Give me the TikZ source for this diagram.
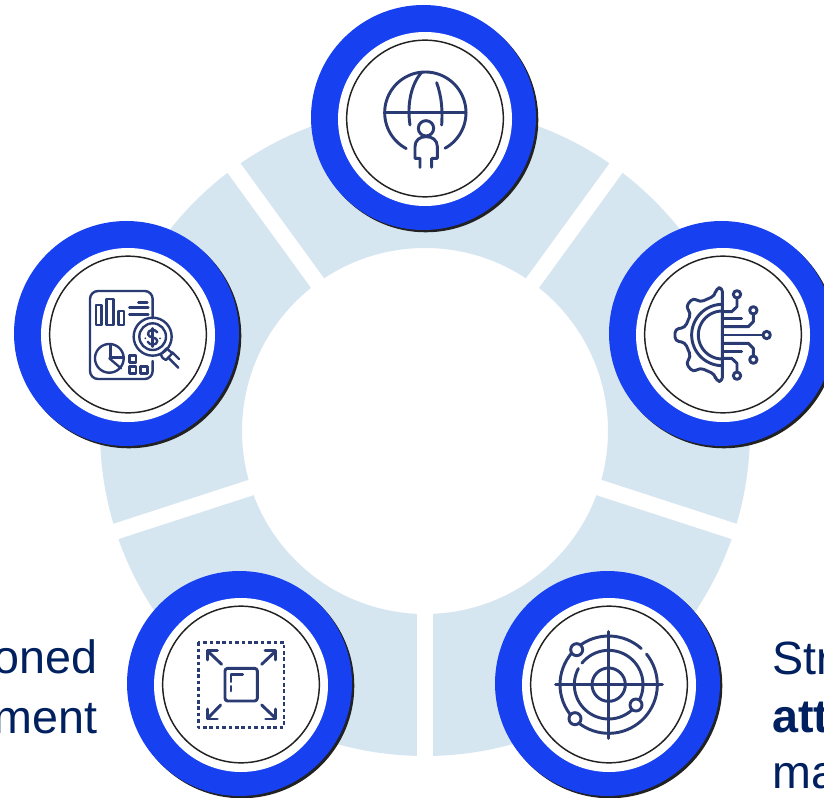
\documentclass[tikz,border=0pt]{standalone}
\usepackage{fontspec}
\setmainfont{Liberation Sans}
\definecolor{ringc}{HTML}{D6E6F1}
\definecolor{bluec}{HTML}{1740F0}
\definecolor{shadowc}{HTML}{222222}
\definecolor{iconc}{HTML}{2A3A72}
\definecolor{textc}{HTML}{00205F}
\tikzset{
  disc/.style={circle,inner sep=0pt,outer sep=0pt},
  shadowdisc/.style={disc,fill=shadowc,minimum size=168.75pt},
  bluedisc/.style={disc,fill=bluec,minimum size=168.75pt},
  whitedisc/.style={disc,fill=white,minimum size=130.5pt},
  linedisc/.style={disc,draw=shadowc,line width=1.1pt,fill=white,minimum size=117.5pt},
  gapline/.style={white,line width=12pt},
  icon/.style={draw=iconc,line width=2.2pt,line cap=round,line join=round},
  iconthin/.style={draw=iconc,line width=1.8pt,line cap=round,line join=round},
  label/.style={text=textc,font=\fontsize{35}{40}\selectfont,inner sep=0pt},
}
\newcommand{\badge}[3]{%
  \node[shadowdisc] (#1s) at (#2+0.8,#3+1.8) {};
  \node[bluedisc] (#1b) at (#2-1.5,#3-0.5) {};
  \node[whitedisc] (#1w) at (#2,#3+1) {};
  \node[linedisc] (#1l) at (#2,#3+0.5) {};
}
\newcommand{\arcp}[6][icon]{\draw[#1] plot[domain=#5:#6,samples=70] ({#2+#4*cos(\x)},{#3-#4*sin(\x)});}
\begin{document}
\begin{tikzpicture}[x=0.75pt,y=-0.75pt]
\useasboundingbox (0,0) rectangle (824,798);
\clip (0,0) rectangle (824,798);
\fill[white] (0,0) rectangle (824,798);
\coordinate (ctr) at (425,431);
\fill[ringc,even odd rule] (ctr) circle[radius=325] (ctr) circle[radius=183];
\foreach \ex/\ey in {425/800, 44.6/554.6, 805.4/554.6, 189.9/107.4, 660.1/107.4}
  \draw[gapline] (ctr) -- (\ex,\ey);
\badge{top}{425}{118}
\badge{lft}{128}{334}
\badge{rgt}{723}{334}
\badge{bl}{241}{684}
\badge{br}{609}{684}
% globe
\begin{scope}[shift={(340,40)},x=0.25pt,y=-0.25pt]
\arcp{256}{218}{122}{-61}{242}
\draw[icon] (136,218) -- (378,218);
\draw[icon] (210,255) .. controls (200,190) and (215,130) .. (245,97);
\draw[icon] (290,128) .. controls (305,170) and (308,210) .. (305,255);
\draw[icon] (258,265) circle[radius=23];
\draw[icon] (240,382) -- (240,355) -- (225,355) -- (225,320) .. controls (225,300) and (240,290) .. (258,290) .. controls (277,290) and (292,300) .. (292,320) -- (292,355) -- (275,355) -- (275,382);
\end{scope}
% report
\begin{scope}[shift={(40,255)},x=0.25pt,y=-0.25pt]
\draw[iconthin,rounded corners=6pt] (338,190) -- (338,108) -- (150,108) -- (150,372) -- (338,372) -- (338,318);
\draw[iconthin] (168,150) rectangle (185,210);
\draw[iconthin] (200,132) rectangle (220,210);
\draw[iconthin] (235,168) rectangle (252,210);
\draw[iconthin] (295,142) -- (322,142);
\draw[iconthin] (268,158) -- (325,158);
\draw[iconthin] (268,178) -- (325,178);
\draw[iconthin] (338,245) circle[radius=57];
\draw[iconthin] (338,245) circle[radius=40];
\draw[iconthin] (352,232) .. controls (345,220) and (322,224) .. (324,238) .. controls (326,250) and (352,245) .. (352,258) .. controls (352,272) and (328,272) .. (323,260);
\draw[iconthin] (338,220) -- (338,275);
\fill[iconc] (316,250) circle[radius=3];
\fill[iconc] (360,250) circle[radius=3];
\draw[iconthin] (380,280) -- (362,298) .. controls (365,308) and (370,312) .. (378,315) -- (397,295) -- (380,280);
\draw[iconthin] (397,292) -- (417,312);
\draw[iconthin] (385,308) -- (415,338);
\arcp[iconthin]{208}{310}{43}{20}{400}
\draw[iconthin] (212,268) -- (212,308) -- (252,308);
\draw[iconthin] (208,310) -- (243,340);
\draw[iconthin] (268,302) rectangle (288,322);
\draw[iconthin] (268,335) rectangle (288,355);
\draw[iconthin] (302,335) rectangle (322,355);
\end{scope}
% gear
\begin{scope}[shift={(640,255)},x=0.25pt,y=-0.25pt]
\draw[icon,rounded corners=3pt] (247,97) -- (228,100) -- (225,122) -- (180,142) -- (160,128) -- (137,155) -- (153,175) -- (135,218) -- (105,222) -- (105,258) -- (135,262) -- (153,305) -- (137,325) -- (160,352) -- (180,338) -- (225,358) -- (228,378) -- (247,380) -- cycle;
\arcp{247}{240}{72}{90}{270}
\arcp{247}{240}{92}{90}{270}
\draw[icon] (247,240) -- (369,240);
\draw[icon] (380,240) circle[radius=11];
\draw[icon] (247,215) -- (325,215) -- (340,200) -- (340,177);
\draw[icon] (340,166) circle[radius=11];
\draw[icon] (247,190) -- (305,190);
\draw[icon] (247,170) -- (275,170) -- (291,155) -- (291,129);
\draw[icon] (291,118) circle[radius=11];
\draw[icon] (247,265) -- (325,265) -- (340,280) -- (340,303);
\draw[icon] (340,314) circle[radius=11];
\draw[icon] (247,290) -- (305,290);
\draw[icon] (247,310) -- (275,310) -- (291,325) -- (291,351);
\draw[icon] (291,362) circle[radius=11];
\end{scope}
% expand
\begin{scope}[shift={(155,605)},x=0.25pt,y=-0.25pt]
\draw[icon,dash pattern=on 2.8pt off 2.0pt,line cap=butt] (130,112) rectangle (387,367);
\draw[icon,rounded corners=2pt] (210,190) rectangle (307,288);
\draw[icon] (228,258) -- (228,244);
\draw[icon] (228,230) -- (228,208) -- (263,208);
\draw[icon] (200,178) -- (160,140);
\draw[icon] (157,165) -- (157,137) -- (187,137);
\draw[icon] (320,178) -- (360,140);
\draw[icon] (330,137) -- (362,137) -- (362,165);
\draw[icon] (197,300) -- (160,338);
\draw[icon] (157,312) -- (157,342) -- (187,342);
\draw[icon] (320,300) -- (360,338);
\draw[icon] (362,312) -- (362,342) -- (332,342);
\end{scope}
% radar
\begin{scope}[shift={(525,605)},x=0.25pt,y=-0.25pt]
\arcp{251}{239}{146}{48}{399}
\arcp{251}{239}{103}{152}{501}
\draw[icon] (92,239) -- (412,239);
\draw[icon] (251,80) -- (251,400);
\draw[icon] (251,239) circle[radius=50];
\draw[icon,fill=white] (155,134) circle[radius=18];
\draw[icon,fill=white] (150,341) circle[radius=18];
\draw[icon,fill=white] (333,300) circle[radius=18];
\end{scope}
% labels
\node[label,anchor=base east] (t1) at (98,673) {oned};
\node[label,anchor=base east] (t2) at (98,733) {ment};
\node[label,anchor=base west] (t3) at (772,674) {Str};
\node[label,anchor=base west,font=\fontsize{35}{40}\selectfont\bfseries] (t4) at (772,732) {att};
\node[label,anchor=base west] (t5) at (772,788) {ma};
\end{tikzpicture}
\end{document}
